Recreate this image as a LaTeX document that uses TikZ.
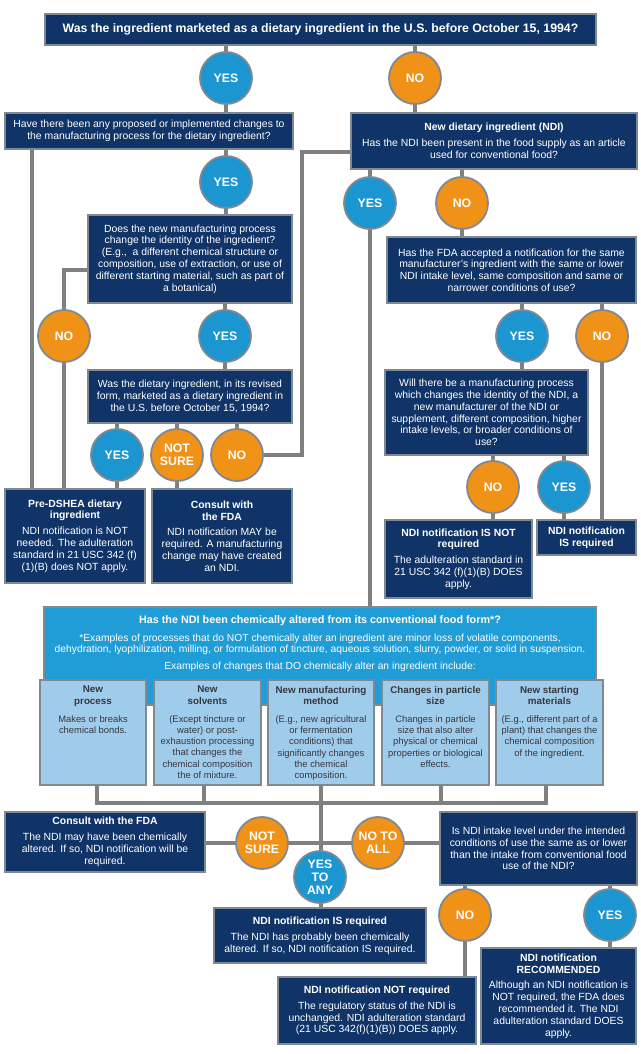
\documentclass[tikz,border=0pt]{standalone}
\usepackage{fontspec}
\setmainfont{Liberation Sans}
\usetikzlibrary{shapes.geometric,backgrounds}
\pgfdeclarelayer{paper}
\pgfsetlayers{paper,background,main}
\definecolor{navy}{RGB}{16,52,104}
\definecolor{bordergray}{RGB}{128,136,146}
\definecolor{linegray}{RGB}{128,128,128}
\definecolor{yesblue}{RGB}{27,150,208}
\definecolor{noorange}{RGB}{240,146,24}
\definecolor{bigblue}{RGB}{32,156,214}
\definecolor{subblue}{RGB}{160,204,236}
\definecolor{subtext}{RGB}{55,55,60}
\tikzset{
  qbox/.style={draw=bordergray, line width=1.3pt, fill=navy, text=white, align=center, inner sep=2pt, font=\fontsize{10.4}{11.8}\selectfont},
  yesc/.style={circle, draw=bordergray, line width=1.8pt, fill=yesblue, text=white, minimum size=52pt, inner sep=0pt, align=center, font=\fontsize{12.3}{13}\selectfont\bfseries},
  noc/.style={yesc, fill=noorange},
  bigbox/.style={draw=bordergray, line width=1.3pt, fill=bigblue, text=white, inner sep=0pt},
  subbox/.style={draw=bordergray, line width=1.3pt, fill=subblue, text=subtext, inner sep=0pt},
  conn/.style={draw=linegray, line width=3.6pt},
  subt/.style={anchor=north, text=subtext, align=center, inner sep=0pt, font=\fontsize{9.4}{11.2}\selectfont}
}
\newcommand{\sbt}[1]{\textbf{\fontsize{9.8}{11.2}\selectfont #1}}
\begin{document}
\begin{tikzpicture}[x=1pt,y=-1pt]
\begin{pgfonlayer}{paper}
\useasboundingbox[fill=white] (0,0) rectangle (640,1054);
\end{pgfonlayer}

% ---- top question
\node[qbox, minimum width=551pt, minimum height=31pt, font=\fontsize{12.3}{13}\selectfont\bfseries] (q1) at (320.5,29.5)
  {Was the ingredient marketed as a dietary ingredient in the U.S. before October 15, 1994?};
\node[yesc] (yes1) at (226,78) {YES};
\node[noc] (no1) at (415,78) {NO};

\node[qbox, minimum width=288pt, minimum height=36pt] (qchg) at (149,131)
  {Have there been any proposed or implemented changes to\\the manufacturing process for the dietary ingredient?};
\node[qbox, minimum width=286pt, minimum height=56pt] (ndi) at (494,141)
  {\textbf{New dietary ingredient (NDI)}\\[4pt]Has the NDI been present in the food supply as an article\\used for conventional food?};

\node[yesc] (yes2) at (226,182) {YES};
\node[yesc] (yesN) at (370,203) {YES};
\node[noc] (noN) at (462,203) {NO};

\node[qbox, minimum width=204pt, minimum height=88pt] (qid) at (190,259)
  {Does the new manufacturing process\\change the identity of the ingredient?\\(E.g.,\ \ a different chemical structure or\\composition, use of extraction, or use of\\different starting material, such as part of\\a botanical)};
\node[qbox, minimum width=249pt, minimum height=66pt] (fda) at (511.5,270)
  {Has the FDA accepted a notification for the same\\manufacturer's ingredient with the same or lower\\NDI intake level, same composition and same or\\narrower conditions of use?};

\node[noc] (no3) at (64,336) {NO};
\node[yesc] (yes3) at (225,336) {YES};
\node[yesc] (yesF) at (522,336) {YES};
\node[noc] (noF) at (602,336) {NO};

\node[qbox, minimum width=204pt, minimum height=53pt] (qrev) at (190,396.5)
  {Was the dietary ingredient, in its revised\\form, marketed as a dietary ingredient in\\the U.S. before October 15, 1994?};
\node[qbox, minimum width=203pt, minimum height=85pt] (will) at (486.5,412.5)
  {Will there be a manufacturing process\\which changes the identity of the NDI, a\\new manufacturer of the NDI or\\supplement, different composition, higher\\intake levels, or broader conditions of\\use?};

\node[yesc] (yes4) at (117,455) {YES};
\node[noc] (ns4) at (177,455) {NOT\\SURE};
\node[noc] (no4) at (237,455) {NO};
\node[noc] (noW) at (493,487) {NO};
\node[yesc] (yesW) at (564,487) {YES};

\node[qbox, minimum width=140pt, minimum height=94pt] (pre) at (75,536)
  {\textbf{Pre-DSHEA dietary}\\\textbf{ingredient}\\[4pt]NDI notification is NOT\\needed. The adulteration\\standard in 21 USC 342 (f)\\(1)(B) does NOT apply.};
\node[qbox, minimum width=140pt, minimum height=94pt] (cons1) at (222,536)
  {\textbf{Consult with}\\\textbf{the FDA}\\[4pt]NDI notification MAY be\\required. A manufacturing\\change may have created\\an NDI.};
\node[qbox, minimum width=147pt, minimum height=78pt] (notreq) at (458.5,559)
  {\textbf{NDI notification IS NOT}\\\textbf{required}\\[4pt]The adulteration standard in\\21 USC 342 (f)(1)(B) DOES\\apply.};
\node[qbox, minimum width=99pt, minimum height=35pt] (isreq) at (586.5,537.5)
  {\textbf{NDI notification}\\\textbf{IS required}};

% ---- chemically altered block
\node[bigbox, minimum width=552pt, minimum height=98pt] (big) at (320,656) {};
\node[text=white, align=center, anchor=north, inner sep=0pt, font=\fontsize{10.3}{11.5}\selectfont] (bigt) at (320,615.5)
  {\textbf{\fontsize{10.8}{11.5}\selectfont Has the NDI been chemically altered from its conventional food form*?}\\[6pt]*Examples of processes that do NOT chemically alter an ingredient are minor loss of volatile components,\\dehydration, lyophilization, milling, or formulation of tincture, aqueous solution, slurry, powder, or solid in suspension.\\[5pt]Examples of changes that DO chemically alter an ingredient include:};

\node[subbox, minimum width=106pt, minimum height=105pt] (s1) at (93,732.5) {};
\node[subbox, minimum width=107pt, minimum height=105pt] (s2) at (207.5,732.5) {};
\node[subbox, minimum width=106pt, minimum height=105pt] (s3) at (321,732.5) {};
\node[subbox, minimum width=107pt, minimum height=105pt] (s4) at (435.5,732.5) {};
\node[subbox, minimum width=107pt, minimum height=105pt] (s5) at (549.5,732.5) {};
\node[subt] (t1) at ([yshift=-6.5pt]s1.north) {\sbt{New}\\\sbt{process}\\[7pt]Makes or breaks\\chemical bonds.};
\node[subt] (t2) at ([yshift=-6.5pt]s2.north) {\sbt{New}\\\sbt{solvents}\\[7pt](Except tincture or\\water) or post-\\exhaustion processing\\that changes the\\chemical composition\\the of mixture.};
\node[subt] (t3) at ([yshift=-6.5pt]s3.north) {\sbt{New manufacturing}\\\sbt{method}\\[7pt](E.g., new agricultural\\or fermentation\\conditions) that\\significantly changes\\the chemical\\composition.};
\node[subt] (t4) at ([yshift=-6.5pt]s4.north) {\sbt{Changes in particle}\\\sbt{size}\\[7pt]Changes in particle\\size that also alter\\physical or chemical\\properties or biological\\effects.};
\node[subt] (t5) at ([yshift=-6.5pt]s5.north) {\sbt{New starting}\\\sbt{materials}\\[7pt](E.g., different part of a\\plant) that changes the\\chemical composition\\of the ingredient.};

% ---- bottom
\node[qbox, minimum width=200pt, minimum height=60pt] (cons2) at (105,842)
  {\textbf{Consult with the FDA}\\[4pt]The NDI may have been chemically\\altered. If so, NDI notification will be\\required.};
\node[noc] (ns5) at (262,843) {NOT\\SURE};
\node[noc] (nta) at (378,843) {NO TO\\ALL};
\node[yesc] (yta) at (320,877) {YES\\TO\\ANY};
\node[qbox, minimum width=197pt, minimum height=73pt] (intake) at (538.5,848.5)
  {Is NDI intake level under the intended\\conditions of use the same as or lower\\than the intake from conventional food\\use of the NDI?};
\node[noc] (noI) at (465,915) {NO};
\node[yesc] (yesI) at (610,915) {YES};
\node[qbox, minimum width=212pt, minimum height=55pt] (isreq2) at (320,935.5)
  {\textbf{NDI notification IS required}\\[4pt]The NDI has probably been chemically\\altered. If so, NDI notification IS required.};
\node[qbox, minimum width=198pt, minimum height=67pt] (notreq2) at (377,1010.5)
  {\textbf{NDI notification NOT required}\\[4pt]The regulatory status of the NDI is\\unchanged. NDI adulteration standard\\(21 USC 342(f)(1)(B)) DOES apply.};
\node[qbox, minimum width=155pt, minimum height=96pt] (recom) at (558.5,996)
  {\textbf{NDI notification}\\\textbf{RECOMMENDED}\\[4pt]Although an NDI notification is\\NOT required, the FDA does\\recommended it. The NDI\\adulteration standard DOES\\apply.};

% ---- helper coordinates
\coordinate (k1) at (32,131);
\coordinate (k2) at (150,270);
\coordinate (k3) at (302,152);
\coordinate (k4) at (420,152);
\coordinate (h1) at (97,803);
\coordinate (h2) at (204,803);
\coordinate (h3) at (321,803);
\coordinate (h4) at (441,803);
\coordinate (h5) at (546,803);

\begin{pgfonlayer}{background}
\draw[conn] (yes1 |- q1.center) -- (yes1 |- qchg.center);
\draw[conn] (no1 |- q1.center) -- (no1 |- ndi.center);
\draw[conn] (yes2 |- qchg.center) -- (yes2 |- qid.center);
\draw[conn] (k1) -- (k1 |- pre.center);
\draw[conn] (k2) -| (no3.center) -- (no3 |- pre.center);
\draw[conn] (yes3 |- qid.center) -- (yes3 |- qrev.center);
\draw[conn] (yes4 |- qrev.center) -- (yes4 |- pre.center);
\draw[conn] (ns4 |- qrev.center) -- (ns4 |- cons1.center);
\draw[conn] (no4 |- qrev.center) -- (no4.center) -| (k3) -- (k4);
\draw[conn] (yesN |- ndi.center) -- (yesN |- big.center);
\draw[conn] (noN |- ndi.center) -- (noN |- fda.center);
\draw[conn] (yesF |- fda.center) -- (yesF |- will.center);
\draw[conn] (noF |- fda.center) -- (noF |- isreq.center);
\draw[conn] (noW |- will.center) -- (noW |- notreq.center);
\draw[conn] (yesW |- will.center) -- (yesW |- isreq.center);
\draw[conn] (h1 |- s1.center) -- (h1) -- (h5) -- (h5 |- s5.center);
\draw[conn] (h2 |- s2.center) -- (h2);
\draw[conn] (h4 |- s4.center) -- (h4);
\draw[conn] (h3 |- s3.center) -- (h3 |- isreq2.center);
\draw[conn] (cons2.center |- ns5.center) -- (intake.center |- ns5.center);
\draw[conn] (noI |- intake.center) -- (noI |- notreq2.center);
\draw[conn] (yesI |- intake.center) -- (yesI |- recom.center);
\end{pgfonlayer}
\end{tikzpicture}
\end{document}
